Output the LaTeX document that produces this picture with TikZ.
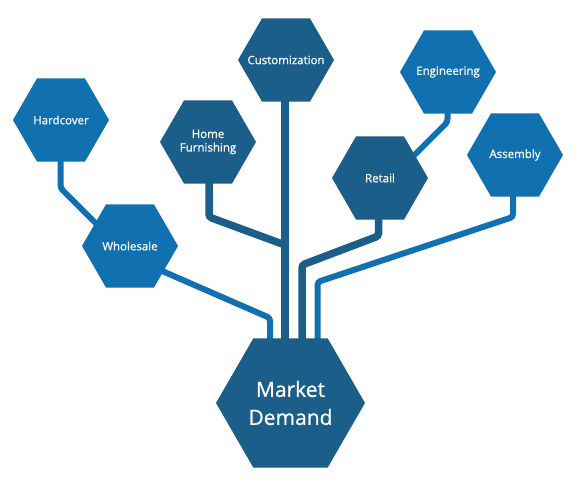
\documentclass[tikz,border=0pt]{standalone}
\usepackage{fontspec}
\setmainfont{Open Sans}
\newfontfamily\labelfont[FakeBold=0.8]{Open Sans}
\usetikzlibrary{shapes.geometric,calc,backgrounds}
\definecolor{hexdark}{RGB}{27,94,138}
\definecolor{hexlight}{RGB}{17,112,176}
\tikzset{
  hexbase/.style={regular polygon, regular polygon sides=6, inner sep=0pt, draw=none},
  hextext/.style={text=white, align=center, inner sep=0pt},
  smallhex/.style={hexbase, minimum size=96pt},
  bighex/.style={hexbase, minimum size=149pt, fill=hexdark},
  smalltext/.style={hextext, font=\labelfont\fontsize{11.5}{13.5}\selectfont},
  bigtext/.style={hextext, font=\labelfont\fontsize{21}{28}\selectfont},
  darkhex/.style={smallhex, fill=hexdark},
  lighthex/.style={smallhex, fill=hexlight},
  darkline/.style={draw=hexdark, line width=7.5pt, rounded corners=3pt},
  lightline/.style={draw=hexlight, line width=6pt, rounded corners=3pt},
}
\begin{document}
\begin{tikzpicture}[x=1pt,y=-1pt]
\useasboundingbox (0,0) rectangle (579,494);
\node[lighthex, label={[smalltext]center:Hardcover}] (hard) at (61,120) {};
\node[darkhex, label={[smalltext]center:Home\\Furnishing}] (hf) at (208,142) {};
\node[lighthex, label={[smalltext]center:Wholesale}] (whole) at (130,246) {};
\node[darkhex, label={[smalltext]center:Customization}] (cust) at (286,60) {};
\node[lighthex, label={[smalltext]center:Engineering}] (eng) at (448,72) {};
\node[darkhex, label={[smalltext]center:Retail}] (ret) at (380,178) {};
\node[lighthex, label={[smalltext]center:Assembly}] (asm) at (515,155) {};
\node[bighex, label={[bigtext]center:Market\\Demand}] (mkt) at (290.5,403) {};
\begin{scope}[on background layer]
  % Hardcover -> Wholesale
  \draw[lightline] ($(hard.center)+(-0.5,0)$) -- ($(hard.center)+(-0.5,68)$) -- ($(hard.center)+(53.5,122)$);
  % Wholesale -> Market
  \draw[lightline] ($(whole.center)+(0,11)$) -- ($(mkt.center)+(-20.5,-85)$) -- ($(mkt.center)+(-20.5,0)$);
  % Customization -> Market
  \draw[darkline] ($(cust.center)+(-1,0)$) -- ($(mkt.center)+(-5.5,0)$);
  % Home Furnishing -> Customization trunk
  \draw[darkline] ($(hf.center)+(1,0)$) -- ($(hf.center)+(1,75)$) -- ($(cust.center)+(-1,185)$);
  % Retail -> Market
  \draw[darkline] ($(ret.center)+(-1.5,0)$) -- ($(ret.center)+(-1.5,58)$) -- ($(mkt.center)+(11.5,-138)$) -- ($(mkt.center)+(11.5,0)$);
  % Assembly -> Market
  \draw[lightline] ($(asm.center)+(-2,0)$) -- ($(asm.center)+(-2,62)$) -- ($(mkt.center)+(27,-121)$) -- ($(mkt.center)+(27,0)$);
  % Engineering -> Retail
  \draw[lightline] ($(eng.center)+(-0.5,0)$) -- ($(eng.center)+(-0.5,50)$) -- ($(ret.center)+(15,-3.5)$);
\end{scope}
\end{tikzpicture}
\end{document}
